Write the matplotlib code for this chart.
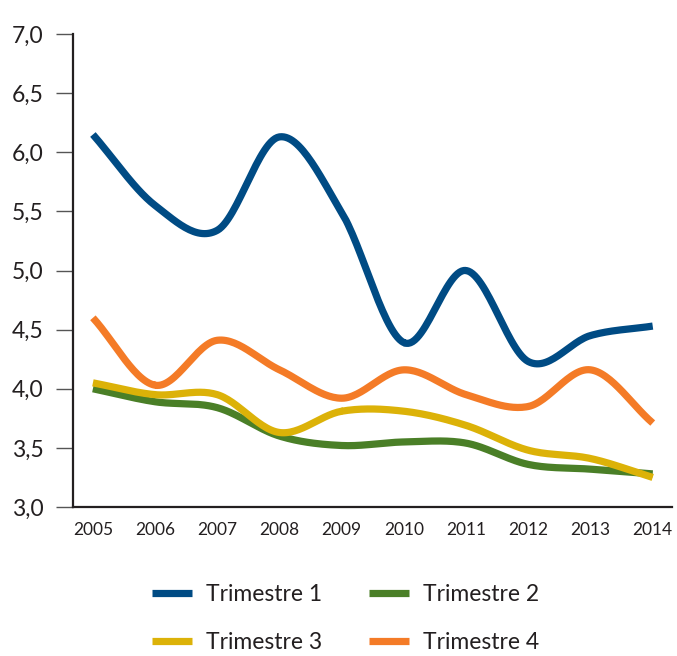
import numpy as np
import matplotlib
matplotlib.use("Agg")
import matplotlib.pyplot as plt
from matplotlib.ticker import FuncFormatter, MultipleLocator

plt.rcParams['font.family'] = ['Lato', 'DejaVu Sans']

years = [2005, 2006, 2007, 2008, 2009, 2010, 2011, 2012, 2013, 2014]
trimestre_1 = [6.15, 5.55, 5.34, 6.13, 5.49, 4.39, 5.00, 4.23, 4.45, 4.53]
trimestre_2 = [4.00, 3.89, 3.84, 3.60, 3.52, 3.55, 3.54, 3.36, 3.32, 3.28]
trimestre_3 = [4.05, 3.95, 3.95, 3.63, 3.81, 3.81, 3.69, 3.48, 3.41, 3.25]
trimestre_4 = [4.60, 4.03, 4.41, 4.16, 3.92, 4.16, 3.95, 3.85, 4.16, 3.71]

series = [
    ("Trimestre 1", trimestre_1, "#004b84"),
    ("Trimestre 2", trimestre_2, "#4a7f27"),
    ("Trimestre 3", trimestre_3, "#dcb208"),
    ("Trimestre 4", trimestre_4, "#f47b27"),
]


def smooth(x, y, n=30):
    """Catmull-Rom curve through the given points."""
    x = np.asarray(x, float)
    y = np.asarray(y, float)
    px = np.concatenate([[2 * x[0] - x[1]], x, [2 * x[-1] - x[-2]]])
    py = np.concatenate([[2 * y[0] - y[1]], y, [2 * y[-1] - y[-2]]])
    xs, ys = [], []
    t = np.linspace(0, 1, n)
    for i in range(1, len(px) - 2):
        for p, out in ((px, xs), (py, ys)):
            p0, p1, p2, p3 = p[i - 1], p[i], p[i + 1], p[i + 2]
            out.extend(0.5 * ((2 * p1) + (-p0 + p2) * t
                              + (2 * p0 - 5 * p1 + 4 * p2 - p3) * t ** 2
                              + (-p0 + 3 * p1 - 3 * p2 + p3) * t ** 3))
    return np.array(xs), np.array(ys)


fig = plt.figure(figsize=(6.77, 6.56), dpi=100)
ax = fig.add_axes([73 / 677, 149 / 656, 599 / 677, 473 / 656])

handles = {}
for name, vals, color in series:
    sx, sy = smooth(years, vals)
    line, = ax.plot(sx, sy, color=color, lw=5.2, solid_capstyle='butt',
                    solid_joinstyle='round', label=name)
    handles[name] = line

ax.set_xlim(2004.68, 2014.31)
ax.set_ylim(3.0, 7.0)
ax.yaxis.set_major_locator(MultipleLocator(0.5))
ax.yaxis.set_major_formatter(FuncFormatter(lambda v, _: f"{v:.1f}".replace('.', ',')))
ax.set_xticks(years)
ax.set_xticklabels([str(y) for y in years])

for side in ('top', 'right'):
    ax.spines[side].set_visible(False)
for side in ('left', 'bottom'):
    ax.spines[side].set_color('#231f20')
    ax.spines[side].set_linewidth(1.6)

ax.tick_params(axis='y', direction='out', length=12, width=1.0, color='#555555',
               pad=9, labelsize=16.5, labelcolor='#231f20')
ax.tick_params(axis='x', length=0, pad=11, labelsize=12.5, labelcolor='#231f20')

order = ["Trimestre 1", "Trimestre 3", "Trimestre 2", "Trimestre 4"]
leg = fig.legend([handles[k] for k in order], order, ncol=2,
                 loc='center', bbox_to_anchor=(0.51, 0.057),
                 frameon=False, fontsize=16.5, handlelength=1.75,
                 handletextpad=0.6, columnspacing=2.05, labelspacing=1.18)
for t in leg.get_texts():
    t.set_color('#231f20')

fig.savefig("out.png", dpi=100)
